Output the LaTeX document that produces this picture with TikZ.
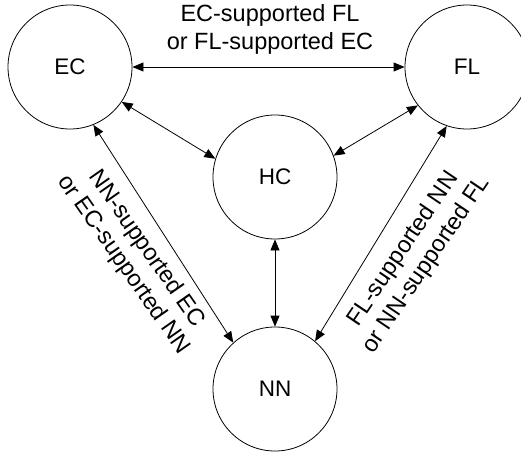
\documentclass[tikz,border=0pt]{standalone}
\usepackage{fontspec}
\setmainfont{Liberation Sans}
\usetikzlibrary{arrows.meta}
\begin{document}
\begin{tikzpicture}[x=1pt,y=-1pt,
  state/.style={circle,draw,line width=0.8pt,minimum size=124pt,inner sep=0pt,font=\fontsize{22.5}{27}\selectfont},
  link/.style={line width=0.8pt,{Triangle[length=11pt,width=9pt]}-{Triangle[length=11pt,width=9pt]}},
  lbl/.style={align=center,font=\fontsize{23.5}{28}\selectfont,inner sep=0pt}]
\useasboundingbox (0,0) rectangle (521,452);
\node[state] (EC) at (70,67) {EC};
\node[state] (FL) at (467,67) {FL};
\node[state] (HC) at (275,177) {HC};
\node[state] (NN) at (275,389) {NN};
\draw[link] (EC.east) -- (FL.west);
\draw[link] (EC.-34) -- (HC.163);
\draw[link] (FL.218) -- (HC.20);
\draw[link] (HC.south) -- (NN.north);
\draw[link] (EC.-68) -- (NN.132);
\draw[link] (FL.251) -- (NN.50);
\node[lbl] (t1) at (270,29) {EC-supported FL\\or FL-supported EC};
\node[lbl,rotate=-55] (t2) at (135,257) {NN-supported EC\\or EC-supported NN};
\node[lbl,rotate=56] (t3) at (415,257) {FL-supported NN\\or NN-supported FL};
\end{tikzpicture}
\end{document}
